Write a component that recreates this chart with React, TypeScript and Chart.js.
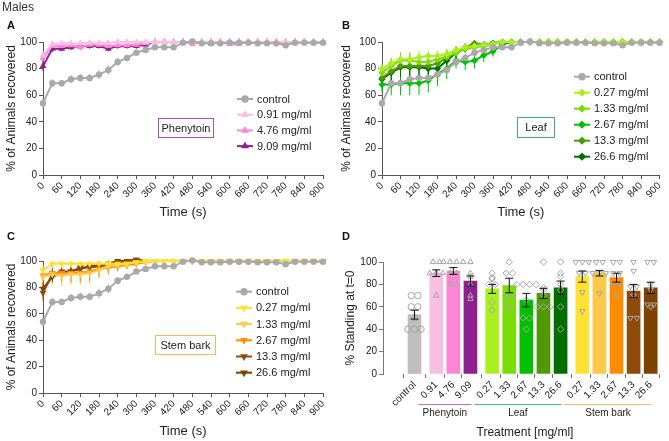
import React, { useEffect, useRef } from 'react';
import { Chart, registerables } from 'chart.js';
Chart.register(...registerables);

const FONT = "'Liberation Sans', Arial, Helvetica, sans-serif";
Chart.defaults.font.family = FONT;
Chart.defaults.color = '#222';

// ---------------- data ----------------
const TIME_S = [0, 30, 60, 90, 120, 150, 180, 210, 240, 270, 300, 330, 360, 390, 420, 450, 480, 510, 540, 570, 600, 630, 660, 690, 720, 750, 780, 810, 840, 870, 900];
const TIME_TICKS = [0, 60, 120, 180, 240, 300, 360, 420, 480, 540, 600, 660, 720, 780, 840, 900];

const CONTROL = [54, 69, 69, 72, 73, 73, 75.5, 79, 85, 88, 92, 94, 96, 96, 96, 99.5, 100.5, 99, 99, 99, 99.5, 99.5, 99.5, 99, 99, 99, 97.5, 99.5, 99.5, 99.5, 99.5];
const CONTROL_ERR = [4, 3, 2.5, 3, 3, 3, 3.5, 3.5, 3, 2.5, 2, 2, 1.5, 1.5, 1.5, 1, 1, 1, 1, 1, 1, 1, 1, 1, 1, 1, 1.5, 1, 1, 1, 1];

const PHEN_091 = [90, 98.5, 99, 99, 99, 99.5, 99.5, 99.5, 100, 100, 100, 100, 100, 100, 100, 100, 100, 100, 100, 100, 100, 100, 100, 100, 100, 100, 100, 100, 100, 100, 100];
const PHEN_091_ERR = [3, 1.5, 1, 1, 1, 1, 1, 1, 0, 0, 0, 0, 0, 0, 0, 0, 0, 0, 0, 0, 0, 0, 0, 0, 0, 0, 0, 0, 0, 0, 0];
const PHEN_476 = [88, 97, 97, 97.5, 96, 98, 98, 97, 97.5, 97.5, 98, 99, 100, 100, 100, 100, 98.5, 100, 98.5, 100, 98.5, 98.5, 100, 100, 100, 100, 98.5, 100, 100, 100, 100];
const PHEN_476_ERR = [4, 2, 2, 2, 2.5, 1.5, 1.5, 2, 1.5, 1.5, 1.5, 1, 0, 0, 0, 0, 1.5, 0, 1.5, 0, 1.5, 1.5, 0, 0, 0, 0, 1.5, 0, 0, 0, 0];
const PHEN_909 = [82, 95, 95, 96, 97, 97, 97, 95, 97, 97, 97, 98, 100, 100, 100, 100, 100, 100, 100, 100, 100, 100, 100, 100, 100, 100, 100, 100, 100, 100, 100];
const PHEN_909_ERR = [4, 2.5, 2, 2, 2, 2, 2, 2, 2, 2, 2, 1.5, 0, 0, 0, 0, 0, 0, 0, 0, 0, 0, 0, 0, 0, 0, 0, 0, 0, 0, 0];

const LEAF_027 = [80, 84, 87, 87, 88.5, 89.5, 89.5, 91, 94, 96, 97, 98, 98.5, 100, 100, 100, 100, 100, 100, 100, 100, 100, 100, 100, 100, 100, 100, 100, 100, 100, 100];
const LEAF_027_ERR = [4, 4, 5, 5, 5, 4, 4, 4, 3, 3, 2, 2, 2, 0, 0, 0, 0, 0, 0, 0, 0, 0, 0, 0, 0, 0, 0, 0, 0, 0, 0];
const LEAF_133 = [77, 82, 86, 86, 85, 85, 87, 89, 92, 95, 96, 97, 98, 100, 100, 100, 100, 100, 100, 100, 100, 100, 100, 100, 100, 100, 100, 100, 100, 100, 100];
const LEAF_133_ERR = [5, 6, 6, 6, 5, 5, 5, 5, 4, 3, 3, 2, 2, 0, 0, 0, 0, 0, 0, 0, 0, 0, 0, 0, 0, 0, 0, 0, 0, 0, 0];
const LEAF_267 = [68, 68, 69, 69, 69, 71, 76, 80, 86, 85, 86, 90, 93, 98, 100, 100, 100, 100, 100, 100, 100, 100, 100, 100, 100, 100, 100, 100, 100, 100, 100];
const LEAF_267_ERR = [6, 8, 9, 9, 9, 9, 9, 8, 6, 6, 6, 5, 4, 2, 0, 0, 0, 0, 0, 0, 0, 0, 0, 0, 0, 0, 0, 0, 0, 0, 0];
const LEAF_13_3 = [73, 78, 82, 82, 82, 82, 84, 88, 92, 96, 99, 98, 99, 100, 100, 100, 100, 100, 100, 100, 100, 100, 100, 100, 100, 100, 100, 100, 100, 100, 100];
const LEAF_13_3_ERR = [5, 8, 7, 7, 7, 7, 6, 6, 5, 3, 2, 2, 1, 0, 0, 0, 0, 0, 0, 0, 0, 0, 0, 0, 0, 0, 0, 0, 0, 0, 0];
const LEAF_26_6 = [72, 77, 81, 81, 81, 80, 80, 86, 92, 95, 97, 98, 99, 100, 100, 100, 100, 100, 100, 100, 100, 100, 100, 100, 100, 100, 100, 100, 100, 100, 100];
const LEAF_26_6_ERR = [6, 7, 7, 7, 7, 7, 7, 6, 4, 3, 3, 2, 1, 0, 0, 0, 0, 0, 0, 0, 0, 0, 0, 0, 0, 0, 0, 0, 0, 0, 0];

const STEM_027 = [93, 98, 98, 98, 98, 98, 98, 98, 98, 98, 99, 100, 100, 100, 100, 100, 100, 100, 100, 100, 100, 100, 100, 100, 100, 100, 100, 100, 100, 100, 100];
const STEM_027_ERR = [4, 2, 2, 2, 2, 2, 2, 2, 2, 2, 1, 0, 0, 0, 0, 0, 0, 0, 0, 0, 0, 0, 0, 0, 0, 0, 0, 0, 0, 0, 0];
const STEM_133 = [88, 90, 89, 90, 90, 91, 93, 96, 97, 98, 99, 99, 100, 100, 100, 100, 100, 100, 100, 100, 100, 100, 100, 100, 100, 100, 100, 100, 100, 100, 100];
const STEM_133_ERR = [6, 8, 8, 8, 8, 8, 6, 5, 4, 3, 2, 2, 0, 0, 0, 0, 0, 0, 0, 0, 0, 0, 0, 0, 0, 0, 0, 0, 0, 0, 0];
const STEM_267 = [89, 91, 91, 91, 91, 92, 94, 95, 96, 97, 98, 99, 100, 100, 100, 100, 100, 100, 100, 100, 100, 100, 100, 100, 100, 100, 100, 100, 100, 100, 100];
const STEM_267_ERR = [5, 7, 7, 7, 7, 7, 6, 5, 4, 3, 2, 1, 0, 0, 0, 0, 0, 0, 0, 0, 0, 0, 0, 0, 0, 0, 0, 0, 0, 0, 0];
const STEM_13_3 = [76, 90, 92, 92, 95, 95, 96, 97, 99, 100, 101, 100, 100, 100, 100, 100, 100, 100, 100, 100, 100, 100, 100, 100, 100, 100, 100, 100, 100, 100, 100];
const STEM_13_3_ERR = [6, 4, 3, 3, 2, 2, 2, 2, 1, 0, 0, 0, 0, 0, 0, 0, 0, 0, 0, 0, 0, 0, 0, 0, 0, 0, 0, 0, 0, 0, 0];
const STEM_26_6 = [79, 88, 91, 92, 94, 96, 97, 98, 100, 100, 101, 100, 100, 100, 100, 100, 100, 100, 100, 100, 100, 100, 100, 100, 100, 100, 100, 100, 100, 100, 100];
const STEM_26_6_ERR = [5, 4, 3, 3, 2, 2, 2, 1, 0, 0, 0, 0, 0, 0, 0, 0, 0, 0, 0, 0, 0, 0, 0, 0, 0, 0, 0, 0, 0, 0, 0];

// Panel D
const BAR_LABELS = ['control', '0.91', '4.76', '9.09', '0.27', '1.33', '2.67', '13.3', '26.6', '0.27', '1.33', '2.67', '13.3', '26.6'];
const BAR_GROUP = [0, 1, 1, 1, 2, 2, 2, 2, 2, 3, 3, 3, 3, 3];
const GROUP_NAMES = ['', 'Phenytoin', 'Leaf', 'Stem bark'];
const BAR_MEANS = [53, 90, 92, 83, 76, 79, 66, 72, 77, 87, 90, 86, 74, 77];
const BAR_SEM = [4, 3, 3, 4.5, 4, 6.5, 6, 4.5, 6, 5, 2.5, 4, 6, 5];
const BAR_POINTS = [
  [70, 70, 60, 60, 50, 40, 40, 40],
  [100, 100, 90, 90, 90, 70],
  [100, 100, 100, 100, 90, 90, 80, 80],
  [100, 90, 87, 80, 70, 67],
  [90, 86, 85, 80, 80, 64, 57],
  [100, 90, 90, 70, 70, 60],
  [80, 80, 80, 80, 66, 50, 50, 40],
  [100, 77, 75, 70, 60, 60, 60],
  [100, 90, 87, 80, 75, 60, 40],
  [100, 100, 100, 90, 90, 73, 56],
  [100, 100, 90, 90, 90, 72],
  [100, 100, 90, 90, 80, 80, 70],
  [100, 92, 78, 78, 70, 50, 50],
  [100, 100, 80, 75, 62, 62, 60],
];

// ---------------- styles ----------------
const C_CONTROL = '#a9a9a9';
const PHEN_COLORS = ['#f8bfe2', '#ff86d6', '#8e1f8e'];
const LEAF_COLORS = ['#aaf01e', '#7cdc0a', '#00c000', '#4f9a06', '#006f00'];
const STEM_COLORS = ['#ffe132', '#ffc84a', '#ff8c00', '#8e4b0c', '#7b4200'];
const BAR_COLORS = ['#bfbfbf', ...PHEN_COLORS, ...LEAF_COLORS, ...STEM_COLORS];
const GROUP_MARKERS = ['circle', 'triangle', 'rectRot', 'triangle'];
const GROUP_ROT = [0, 0, 0, 180];
const GROUP_LINE_COLORS = ['', '#c76ac7', '#46bf8c', '#ffb469'];
const GROUP_GAP = 0.27;

function drawMarker(ctx: CanvasRenderingContext2D, style: string, x: number, y: number, r: number, rotDeg: number) {
  ctx.beginPath();
  if (style === 'circle') {
    ctx.arc(x, y, r, 0, Math.PI * 2);
  } else if (style === 'triangle') {
    let a = (rotDeg * Math.PI) / 180;
    for (let k = 0; k < 3; k++) {
      const px = x + Math.sin(a) * r;
      const py = y - Math.cos(a) * r;
      if (k === 0) ctx.moveTo(px, py);
      else ctx.lineTo(px, py);
      a += (2 * Math.PI) / 3;
    }
  } else {
    ctx.moveTo(x, y - r);
    ctx.lineTo(x + r, y);
    ctx.lineTo(x, y + r);
    ctx.lineTo(x - r, y);
  }
  ctx.closePath();
}

const lineErrorBars = {
  id: 'lineErrorBars',
  beforeDatasetsDraw(chart: any) {
    const { ctx } = chart;
    const ys = chart.scales.y;
    chart.data.datasets.forEach((ds: any, di: number) => {
      if (!ds.errors) return;
      const meta = chart.getDatasetMeta(di);
      ctx.save();
      ctx.strokeStyle = ds.borderColor;
      ctx.lineWidth = 1;
      meta.data.forEach((pt: any, i: number) => {
        const e = ds.errors[i];
        if (!e) return;
        const v = ds.data[i].y;
        const y1 = ys.getPixelForValue(v + e);
        const y2 = ys.getPixelForValue(v - e);
        ctx.beginPath();
        ctx.moveTo(pt.x, y1);
        ctx.lineTo(pt.x, y2);
        ctx.stroke();
      });
      ctx.restore();
    });
  },
};

const insideLegend = {
  id: 'insideLegend',
  afterDraw(chart: any, _args: any, o: any) {
    const { ctx, chartArea } = chart;
    const x0 = chartArea.left + o.dx;
    const y0 = chartArea.top + o.dy;
    ctx.save();
    ctx.font = `11px ${FONT}`;
    ctx.textBaseline = 'middle';
    chart.data.datasets.forEach((ds: any, i: number) => {
      const y = y0 + i * o.spacing;
      ctx.strokeStyle = ds.borderColor;
      ctx.lineWidth = 2;
      ctx.beginPath();
      ctx.moveTo(x0, y);
      ctx.lineTo(x0 + 16, y);
      ctx.stroke();
      ctx.fillStyle = ds.borderColor;
      drawMarker(ctx, ds.pointStyle, x0 + 8, y, ds.pointRadius + 0.5, ds.pointRotation || 0);
      ctx.fill();
      ctx.fillStyle = '#222';
      ctx.textAlign = 'left';
      ctx.fillText(ds.label, x0 + 20, y + 0.5);
    });
    const b = o.box;
    const bx = chartArea.left + b.dx;
    const by = chartArea.top + b.dy;
    ctx.strokeStyle = b.color;
    ctx.lineWidth = 1;
    ctx.strokeRect(Math.round(bx) + 0.5, Math.round(by) + 0.5, b.w, b.h);
    ctx.fillStyle = '#222';
    ctx.textAlign = 'center';
    ctx.fillText(b.text, bx + b.w / 2 + 0.5, by + b.h / 2 + 1);
    ctx.restore();
  },
};

type Series = { label: string; values: number[]; errors: number[]; color: string; style: string; rotation?: number; radius: number };

function makeLineConfig(series: Series[], p: any) {
  return {
    type: 'line',
    data: {
      datasets: series.map((s) => ({
        label: s.label,
        data: TIME_S.map((t, i) => ({ x: t, y: s.values[i] })),
        errors: s.errors,
        borderColor: s.color,
        backgroundColor: s.color,
        pointBackgroundColor: s.color,
        pointBorderColor: s.color,
        pointStyle: s.style,
        pointRotation: s.rotation || 0,
        pointRadius: s.radius,
        pointBorderWidth: 0,
        borderWidth: 2,
        tension: 0,
        clip: false,
      })),
    },
    options: {
      responsive: false,
      animation: false,
      devicePixelRatio: 1,
      events: [],
      layout: { padding: { top: p.top, right: p.right, left: 0, bottom: 0 } },
      plugins: {
        legend: { display: false },
        tooltip: { enabled: false },
        insideLegend: { dx: p.legend.dx, dy: p.legend.dy, spacing: p.legend.spacing, box: p.box },
      },
      scales: {
        x: {
          type: 'linear',
          min: 0,
          max: 900,
          afterFit: (s: any) => { s.height = p.xHeight; },
          afterBuildTicks: (s: any) => { s.ticks = TIME_TICKS.map((v) => ({ value: v })); },
          ticks: { autoSkip: false, maxRotation: 45, minRotation: 45, padding: 1, font: { size: 10 }, color: '#222' },
          grid: { drawOnChartArea: false, drawTicks: true, tickLength: 4, color: '#555' },
          border: { display: true, color: '#555', width: 1 },
          title: { display: true, text: 'Time (s)', font: { size: 13 }, color: '#222', padding: { top: 0, bottom: p.xTitlePad } },
        },
        y: {
          min: 0,
          max: 100,
          afterFit: (s: any) => { s.width = p.yWidth; },
          ticks: { stepSize: 20, font: { size: 10 }, padding: 2, color: '#222' },
          grid: { drawOnChartArea: false, drawTicks: true, tickLength: 4, color: '#555' },
          border: { display: true, color: '#555', width: 1 },
          title: { display: true, text: '% of Animals recovered', font: { size: 12 }, color: '#222', padding: { top: 4.5, bottom: 0 } },
        },
      },
    },
    plugins: [lineErrorBars, insideLegend],
  };
}

const controlSeries: Series = { label: 'control', values: CONTROL, errors: CONTROL_ERR, color: C_CONTROL, style: 'circle', radius: 3.2 };

function configA() {
  const s: Series[] = [
    controlSeries,
    { label: '0.91 mg/ml', values: PHEN_091, errors: PHEN_091_ERR, color: PHEN_COLORS[0], style: 'triangle', radius: 4 },
    { label: '4.76 mg/ml', values: PHEN_476, errors: PHEN_476_ERR, color: PHEN_COLORS[1], style: 'triangle', radius: 4 },
    { label: '9.09 mg/ml', values: PHEN_909, errors: PHEN_909_ERR, color: PHEN_COLORS[2], style: 'triangle', radius: 4 },
  ];
  return makeLineConfig(s, {
    top: 42, right: 12, xHeight: 45, yWidth: 43, xTitlePad: 0,
    legend: { dx: 194, dy: 57, spacing: 15.7 },
    box: { dx: 115, dy: 76, w: 55, h: 19, color: '#b050b0', text: 'Phenytoin' },
  });
}

function configB() {
  const s: Series[] = [
    controlSeries,
    { label: '0.27 mg/ml', values: LEAF_027, errors: LEAF_027_ERR, color: LEAF_COLORS[0], style: 'rectRot', radius: 3.6 },
    { label: '1.33 mg/ml', values: LEAF_133, errors: LEAF_133_ERR, color: LEAF_COLORS[1], style: 'rectRot', radius: 3.6 },
    { label: '2.67 mg/ml', values: LEAF_267, errors: LEAF_267_ERR, color: LEAF_COLORS[2], style: 'rectRot', radius: 3.6 },
    { label: '13.3 mg/ml', values: LEAF_13_3, errors: LEAF_13_3_ERR, color: LEAF_COLORS[3], style: 'rectRot', radius: 3.6 },
    { label: '26.6 mg/ml', values: LEAF_26_6, errors: LEAF_26_6_ERR, color: LEAF_COLORS[4], style: 'rectRot', radius: 3.6 },
  ];
  return makeLineConfig(s, {
    top: 42, right: 8, xHeight: 45, yWidth: 47, xTitlePad: 0,
    legend: { dx: 192, dy: 34.7, spacing: 16 },
    box: { dx: 135, dy: 75, w: 37, h: 20, color: '#3daa75', text: 'Leaf' },
  });
}

function configC() {
  const s: Series[] = [
    controlSeries,
    { label: '0.27 mg/ml', values: STEM_027, errors: STEM_027_ERR, color: STEM_COLORS[0], style: 'triangle', rotation: 180, radius: 4 },
    { label: '1.33 mg/ml', values: STEM_133, errors: STEM_133_ERR, color: STEM_COLORS[1], style: 'triangle', rotation: 180, radius: 4 },
    { label: '2.67 mg/ml', values: STEM_267, errors: STEM_267_ERR, color: STEM_COLORS[2], style: 'triangle', rotation: 180, radius: 4 },
    { label: '13.3 mg/ml', values: STEM_13_3, errors: STEM_13_3_ERR, color: STEM_COLORS[3], style: 'triangle', rotation: 180, radius: 4 },
    { label: '26.6 mg/ml', values: STEM_26_6, errors: STEM_26_6_ERR, color: STEM_COLORS[4], style: 'triangle', rotation: 180, radius: 4 },
  ];
  return makeLineConfig(s, {
    top: 41, right: 12, xHeight: 48, yWidth: 43, xTitlePad: 2,
    legend: { dx: 193, dy: 30.7, spacing: 16.2 },
    box: { dx: 112, dy: 74, w: 60, h: 19, color: '#ffb060', text: 'Stem bark' },
  });
}

const POSITIONS = BAR_GROUP.map((g, i) => i + g * GROUP_GAP);

const barExtras = {
  id: 'barExtras',
  afterDatasetsDraw(chart: any, _a: any, o: any) {
    const { ctx } = chart;
    const xs = chart.scales.x;
    const ys = chart.scales.y;
    ctx.save();
    ctx.lineWidth = 1;
    ctx.strokeStyle = o.pointColor;
    POSITIONS.forEach((p, i) => {
      const cx = xs.getPixelForValue(p);
      const g = BAR_GROUP[i];
      const pts = BAR_POINTS[i];
      const counts: Record<number, number> = {};
      pts.forEach((v) => { counts[v] = (counts[v] || 0) + 1; });
      const seen: Record<number, number> = {};
      pts.forEach((v) => {
        const n = counts[v];
        const k = seen[v] || 0;
        seen[v] = k + 1;
        const px = cx + (k - (n - 1) / 2) * o.spread;
        const py = ys.getPixelForValue(v);
        drawMarker(ctx, GROUP_MARKERS[g], px, py, o.radius, GROUP_ROT[g]);
        ctx.stroke();
      });
    });
    ctx.strokeStyle = '#111';
    POSITIONS.forEach((p, i) => {
      const cx = xs.getPixelForValue(p);
      const y1 = ys.getPixelForValue(BAR_MEANS[i] + BAR_SEM[i]);
      const y2 = ys.getPixelForValue(BAR_MEANS[i] - BAR_SEM[i]);
      ctx.beginPath();
      ctx.moveTo(cx, y1);
      ctx.lineTo(cx, y2);
      ctx.moveTo(cx - 4, y1);
      ctx.lineTo(cx + 4, y1);
      ctx.moveTo(cx - 4, y2);
      ctx.lineTo(cx + 4, y2);
      ctx.stroke();
    });
    ctx.restore();
  },
  afterDraw(chart: any, _a: any, o: any) {
    const { ctx, chartArea } = chart;
    const xs = chart.scales.x;
    ctx.save();
    ctx.font = `10px ${FONT}`;
    ctx.textAlign = 'center';
    ctx.textBaseline = 'middle';
    GROUP_NAMES.forEach((name, gi) => {
      if (!name) return;
      const idx = BAR_GROUP.map((g, i) => (g === gi ? i : -1)).filter((i) => i >= 0);
      const x1 = xs.getPixelForValue(POSITIONS[idx[0]]) - o.lineLead;
      const x2 = xs.getPixelForValue(POSITIONS[idx[idx.length - 1]]) + 1;
      const ly = Math.round(chartArea.bottom + o.lineOffset) + 0.5;
      ctx.strokeStyle = GROUP_LINE_COLORS[gi];
      ctx.lineWidth = 1;
      ctx.beginPath();
      ctx.moveTo(x1, ly);
      ctx.lineTo(x2, ly);
      ctx.stroke();
      ctx.fillStyle = '#222';
      ctx.fillText(name, (x1 + x2) / 2, chartArea.bottom + o.labelOffset);
    });
    ctx.restore();
  },
};

function configD() {
  return {
    type: 'bar',
    data: {
      datasets: [
        {
          data: POSITIONS.map((p, i) => ({ x: p, y: BAR_MEANS[i] })),
          backgroundColor: BAR_COLORS,
          borderWidth: 0,
          barThickness: 13,
        },
      ],
    },
    options: {
      responsive: false,
      animation: false,
      devicePixelRatio: 1,
      events: [],
      layout: { padding: { top: 42, right: 2, left: 0, bottom: 0 } },
      plugins: {
        legend: { display: false },
        tooltip: { enabled: false },
        barExtras: { pointColor: '#a6a6a6', radius: 3.2, spread: 6.5, lineLead: 18, lineOffset: 30, labelOffset: 39 },
      },
      scales: {
        x: {
          type: 'linear',
          min: -1.25,
          max: POSITIONS[POSITIONS.length - 1] + 0.36,
          afterFit: (s: any) => { s.height = 67; },
          afterBuildTicks: (s: any) => { s.ticks = POSITIONS.map((v) => ({ value: v })); },
          ticks: {
            autoSkip: false, maxRotation: 45, minRotation: 45, padding: 1, font: { size: 10 }, color: '#222',
            callback: (_v: any, i: number) => BAR_LABELS[i],
          },
          grid: { drawOnChartArea: false, drawTicks: true, tickLength: 4, color: '#777' },
          border: { display: false },
          title: { display: true, text: 'Treatment [mg/ml]', font: { size: 12 }, color: '#222', padding: { top: 0, bottom: 1 } },
        },
        y: {
          min: 0,
          max: 100,
          afterFit: (s: any) => { s.width = 48; },
          ticks: { stepSize: 20, font: { size: 10 }, padding: 2, color: '#222' },
          grid: { drawOnChartArea: false, drawTicks: true, tickLength: 4, color: '#777' },
          border: { display: true, color: '#777', width: 1 },
          title: { display: true, text: '% Standing at t=0', font: { size: 12 }, color: '#222', padding: { top: 8, bottom: 0 } },
        },
      },
    },
    plugins: [barExtras],
  };
}

function ChartPanel({ make, left, top, width, height }: { make: () => any; left: number; top: number; width: number; height: number }) {
  const ref = useRef<HTMLCanvasElement>(null);
  useEffect(() => {
    const chart = new Chart(ref.current as HTMLCanvasElement, make());
    return () => chart.destroy();
  }, []);
  return (
    <canvas
      ref={ref}
      width={width}
      height={height}
      style={{ position: 'absolute', left, top, width, height, display: 'block' }}
    />
  );
}

const panelLabel = (left: number, top: number): React.CSSProperties => ({
  position: 'absolute', left, top, fontSize: 11, fontWeight: 'bold', lineHeight: '13px', color: '#111',
});

export default function App() {
  return (
    <div style={{ position: 'fixed', left: 0, top: 0, width: 669, height: 441, background: '#fff', fontFamily: FONT, overflow: 'hidden' }}>
      <ChartPanel make={configA} left={0} top={0} width={335} height={220} />
      <ChartPanel make={configB} left={335} top={0} width={334} height={220} />
      <ChartPanel make={configC} left={0} top={220} width={335} height={221} />
      <ChartPanel make={configD} left={335} top={220} width={334} height={221} />
      <div style={{ position: 'absolute', left: 2, top: 0, fontSize: 12, lineHeight: '15px', color: '#333' }}>Males</div>
      <div style={panelLabel(7, 18.5)}>A</div>
      <div style={panelLabel(342, 18.5)}>B</div>
      <div style={panelLabel(7, 229.5)}>C</div>
      <div style={panelLabel(342, 229.5)}>D</div>
    </div>
  );
}
